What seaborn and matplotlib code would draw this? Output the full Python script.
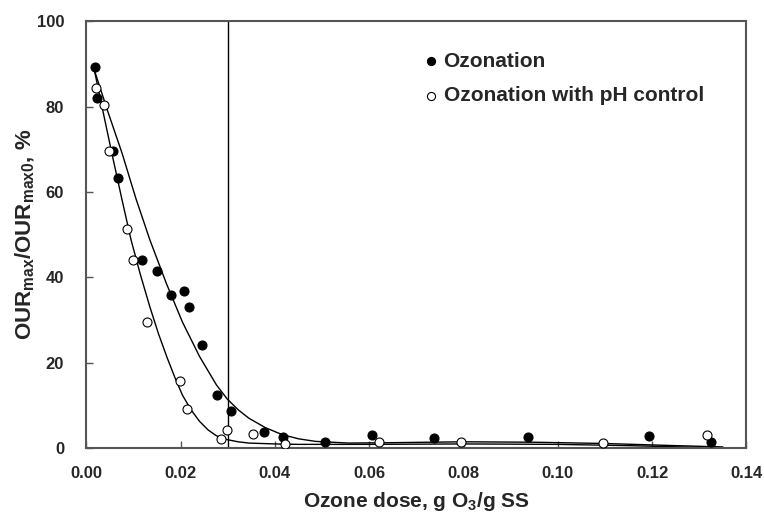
import matplotlib
matplotlib.use("Agg")
import matplotlib.pyplot as plt
import seaborn as sns
import pandas as pd

# Measured data: Ozonation
oz_x = [0.0019, 0.0023, 0.0057, 0.0067, 0.0118, 0.0149, 0.0179, 0.0208, 0.0217, 0.0246,
        0.0278, 0.0307, 0.0377, 0.0417, 0.0507, 0.0606, 0.0737, 0.0937, 0.1194, 0.1324]
oz_y = [89.2, 82.0, 69.6, 63.2, 44.0, 41.5, 35.8, 36.8, 33.0, 24.1,
        12.4, 8.7, 3.7, 2.6, 1.4, 3.0, 2.3, 2.6, 2.8, 1.4]

# Measured data: Ozonation with pH control
ph_x = [0.0021, 0.0038, 0.0048, 0.0086, 0.0099, 0.0128, 0.0198, 0.0213, 0.0286, 0.0299,
        0.0354, 0.0421, 0.0621, 0.0794, 0.1095, 0.1316]
ph_y = [84.3, 80.3, 69.6, 51.3, 44.0, 29.5, 15.7, 9.1, 2.1, 4.2,
        3.3, 0.9, 1.4, 1.4, 1.2, 3.0]

# Fitted trend curves
oz_fit_x = [0.0015, 0.0045, 0.0076, 0.0105, 0.0135, 0.0170, 0.0204, 0.0240, 0.0276, 0.0299,
            0.0322, 0.0345, 0.0380, 0.0415, 0.0450, 0.0486, 0.0556, 0.0650, 0.0800, 0.0950,
            0.1100, 0.1250, 0.1350]
oz_fit_y = [89.2, 79.0, 69.0, 58.5, 48.7, 38.5, 29.5, 21.5, 14.8, 11.5,
            9.0, 7.0, 4.8, 3.2, 2.2, 1.6, 1.2, 1.3, 1.5, 1.4,
            1.1, 0.6, 0.3]
ph_fit_x = [0.0017, 0.0036, 0.0055, 0.0075, 0.0095, 0.0115, 0.0135, 0.0153, 0.0171, 0.0188,
            0.0204, 0.0222, 0.0240, 0.0258, 0.0276, 0.0299, 0.0322, 0.0345, 0.0400, 0.0450,
            0.0600, 0.0800, 0.1000, 0.1150, 0.1300, 0.1350]
ph_fit_y = [88.5, 78.5, 68.6, 58.5, 48.7, 40.5, 33.0, 26.8, 21.3, 16.5,
            12.4, 9.0, 6.3, 4.3, 2.9, 2.0, 1.5, 1.2, 1.0, 0.9,
            0.9, 1.0, 0.9, 0.6, 0.2, 0.1]

x_ticks = [0.00, 0.02, 0.04, 0.06, 0.08, 0.10, 0.12, 0.14]
y_ticks = [0, 20, 40, 60, 80, 100]
cutoff_x = 0.03

sns.set_style("white")
plt.rcParams['font.family'] = ['Liberation Sans', 'DejaVu Sans']
plt.rcParams['mathtext.fontset'] = 'custom'
plt.rcParams['mathtext.rm'] = 'Liberation Sans:bold'
plt.rcParams['mathtext.it'] = 'Liberation Sans:bold'
plt.rcParams['mathtext.bf'] = 'Liberation Sans:bold'

fig, ax = plt.subplots(figsize=(7.64, 5.14), dpi=100)
fig.subplots_adjust(left=0.113, right=0.977, top=0.959, bottom=0.128)

df_oz = pd.DataFrame({"x": oz_x, "y": oz_y})
df_ph = pd.DataFrame({"x": ph_x, "y": ph_y})
df_ozf = pd.DataFrame({"x": oz_fit_x, "y": oz_fit_y})
df_phf = pd.DataFrame({"x": ph_fit_x, "y": ph_fit_y})

sns.lineplot(data=df_ozf, x="x", y="y", ax=ax, color="black", lw=1.0, sort=False, legend=False)
sns.lineplot(data=df_phf, x="x", y="y", ax=ax, color="black", lw=1.0, sort=False, legend=False)

sns.scatterplot(data=df_oz, x="x", y="y", ax=ax, color="black", edgecolor="black",
                s=42, linewidth=0.8, label="Ozonation", zorder=3)
sns.scatterplot(data=df_ph, x="x", y="y", ax=ax, facecolor="white", edgecolor="black",
                s=42, linewidth=0.8, label="Ozonation with pH control", zorder=3)

ax.axvline(cutoff_x, color="black", lw=1.0, zorder=1)

ax.set_xlim(0, 0.14)
ax.set_ylim(0, 100)
ax.set_xticks(x_ticks)
ax.set_yticks(y_ticks)
ax.set_xticklabels([f"{v:.2f}" for v in x_ticks], fontsize=12, fontweight="bold")
ax.set_yticklabels([str(v) for v in y_ticks], fontsize=12, fontweight="bold")
ax.tick_params(axis="both", direction="in", length=5, width=1.0, color="#555555",
               bottom=True, left=True, top=False, right=False)
ax.tick_params(axis="x", pad=13)
ax.tick_params(axis="y", pad=16)

for sp in ax.spines.values():
    sp.set_color("#555555")
    sp.set_linewidth(1.5)

ax.set_xlabel(r"Ozone dose, g O$_3$/g SS", fontsize=15, fontweight="bold", labelpad=6)
ax.set_ylabel(r"OUR$_{max}$/OUR$_{max0}$, %", fontsize=16, fontweight="bold", labelpad=0)

leg = ax.legend(loc="upper left", bbox_to_anchor=(0.478, 0.972), frameon=False,
                prop={"weight": "bold", "size": 15}, handletextpad=0.1,
                labelspacing=0.75, markerscale=0.9, handlelength=1.0)

fig.savefig("out.png", dpi=100)
